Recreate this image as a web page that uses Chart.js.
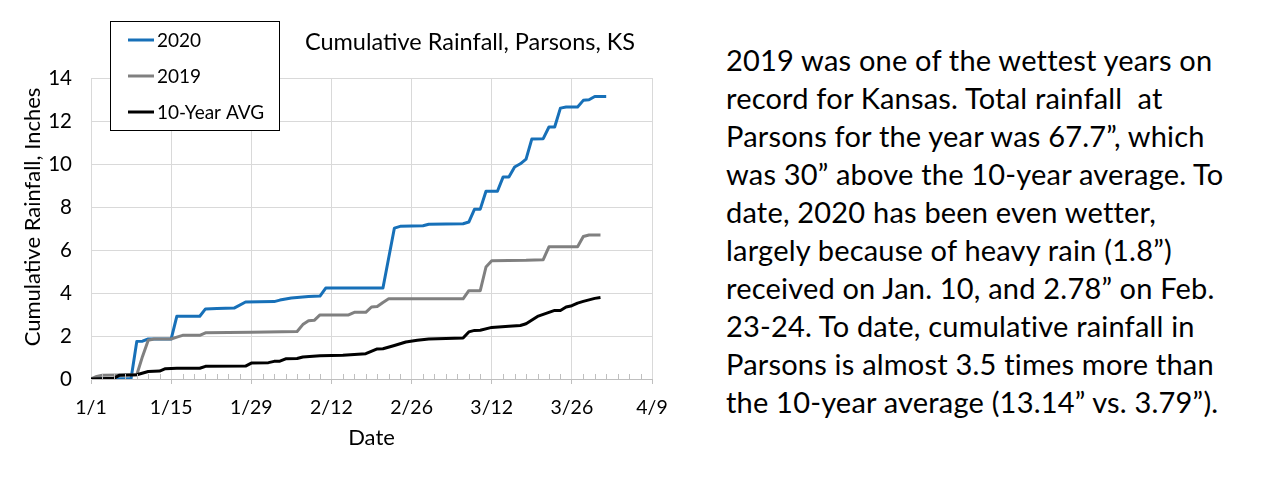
<!DOCTYPE html>
<html>
<head>
<meta charset="utf-8">
<script src="https://cdn.jsdelivr.net/npm/chart.js@4.4.1/dist/chart.umd.min.js"></script>
<style>
  html, body { margin: 0; padding: 0; background: #fff; }
  body { width: 1280px; height: 480px; position: relative; overflow: hidden; }
  #wrap { position: absolute; left: 0; top: 0; width: 700px; height: 480px; }
  #note {
    position: absolute; left: 726px; top: 41px;
    font-family: Lato, "Noto Sans", sans-serif; font-size: 29px; line-height: 38px;
    letter-spacing: 0.2px;
    color: #000; white-space: nowrap;
  }
</style>
</head>
<body>
<div id="wrap"><canvas id="c" width="700" height="480"></canvas></div>
<div id="note">2019 was one of the wettest years on<br>record for Kansas. Total rainfall&nbsp; at<br>Parsons for the year was 67.7”, which<br>was 30” above the 10-year average. To<br>date, 2020 has been even wetter,<br>largely because of heavy rain (1.8”)<br>received on Jan. 10, and 2.78” on Feb.<br>23-24. To date, cumulative rainfall in<br>Parsons is almost 3.5 times more than<br>the 10-year average (13.14” vs. 3.79”).</div>
<script>
// ---- data (day offsets from Jan 1, cumulative inches) ----
const tickLabels = ['1/1', '1/15', '1/29', '2/12', '2/26', '3/12', '3/26', '4/9'];
const seriesNames = ['2020', '2019', '10-Year AVG'];

const days2020 = [0, 7, 8, 9, 10, 14, 15, 19, 20, 22, 25, 27, 32, 33, 35, 38, 40, 41, 51, 53, 54, 58, 59, 65, 66, 67, 68, 69, 71, 72, 73, 74, 75, 76, 77, 79, 80, 81, 82, 83, 85, 86, 87, 88, 90];
const vals2020 = [0, 0.02, 1.75, 1.76, 1.86, 1.86, 2.92, 2.92, 3.26, 3.28, 3.3, 3.58, 3.6, 3.67, 3.77, 3.84, 3.86, 4.23, 4.23, 7.02, 7.1, 7.13, 7.2, 7.22, 7.3, 7.9, 7.9, 8.73, 8.73, 9.4, 9.4, 9.86, 10.01, 10.23, 11.16, 11.18, 11.72, 11.72, 12.6, 12.65, 12.65, 12.96, 12.99, 13.14, 13.14];

const days2019 = [0, 1, 2, 8, 9, 10, 11, 14, 15, 16, 19, 20, 28, 36, 37, 38, 39, 40, 45, 46, 48, 49, 50, 51, 52, 65, 66, 68, 69, 70, 76, 79, 80, 85, 86, 87, 89];
const vals2019 = [0, 0.12, 0.18, 0.2, 1.05, 1.8, 1.86, 1.86, 1.95, 2.03, 2.03, 2.15, 2.18, 2.21, 2.53, 2.71, 2.73, 2.98, 2.98, 3.1, 3.1, 3.35, 3.37, 3.56, 3.73, 3.73, 4.11, 4.11, 5.21, 5.5, 5.52, 5.55, 6.15, 6.15, 6.63, 6.7, 6.7];

const daysAvg = [0, 4, 5, 8, 10, 12, 13, 15, 19, 20, 27, 28, 31, 32, 33, 34, 36, 37, 40, 44, 48, 50, 51, 53, 55, 57, 59, 65, 66, 67, 68, 70, 73, 75, 76, 78, 80, 81, 82, 83, 84, 85, 86, 88, 89];
const valsAvg = [0, 0.03, 0.18, 0.2, 0.35, 0.37, 0.48, 0.5, 0.5, 0.59, 0.6, 0.74, 0.76, 0.82, 0.83, 0.94, 0.95, 1.02, 1.08, 1.1, 1.18, 1.4, 1.41, 1.56, 1.72, 1.8, 1.86, 1.91, 2.19, 2.26, 2.27, 2.4, 2.45, 2.49, 2.57, 2.91, 3.1, 3.19, 3.19, 3.35, 3.41, 3.53, 3.61, 3.75, 3.79];

const toPts = (d, v) => d.map((x, i) => ({ x: x, y: v[i] }));

const FONT = 'Lato, "Noto Sans", sans-serif';
const AREA = { left: 91, right: 652, top: 78, bottom: 379 };

const extras = {
  id: 'extras',
  afterDraw(chart) {
    const ctx = chart.ctx;
    const xs = chart.scales.x;
    const yb = chart.chartArea.bottom;
    // minor tick marks (inside, every 2 days)
    ctx.save();
    ctx.strokeStyle = '#bfbfbf';
    ctx.lineWidth = 1;
    for (let d = 2; d < 98; d += 2) {
      if (d % 14 === 0) continue;
      const px = Math.round(xs.getPixelForValue(d)) + 0.5;
      ctx.beginPath();
      ctx.moveTo(px, yb);
      ctx.lineTo(px, yb - 5);
      ctx.stroke();
    }
    ctx.restore();

    // chart title
    ctx.save();
    ctx.fillStyle = '#000';
    ctx.font = '23.5px ' + FONT;
    ctx.textAlign = 'center';
    ctx.textBaseline = 'middle';
    ctx.fillText('Cumulative Rainfall, Parsons, KS', 470, 42);
    ctx.restore();

    // y axis title
    ctx.save();
    ctx.fillStyle = '#000';
    ctx.font = '22px ' + FONT;
    ctx.textAlign = 'center';
    ctx.textBaseline = 'middle';
    ctx.translate(33, 217);
    ctx.rotate(-Math.PI / 2);
    ctx.fillText('Cumulative Rainfall, Inches', 0, 0);
    ctx.restore();

    // legend box
    ctx.save();
    ctx.fillStyle = '#fff';
    ctx.fillRect(110, 21, 169, 109);
    ctx.strokeStyle = '#000';
    ctx.lineWidth = 1;
    ctx.strokeRect(110.5, 21.5, 169, 109);
    const order = [2, 1, 0]; // dataset indexes: 2020, 2019, avg
    const rowsY = [40, 76, 112];
    ctx.font = '19px ' + FONT;
    ctx.textBaseline = 'middle';
    ctx.textAlign = 'left';
    order.forEach((di, k) => {
      const ds = chart.data.datasets[di];
      ctx.strokeStyle = ds.borderColor;
      ctx.lineWidth = 3;
      ctx.beginPath();
      ctx.moveTo(128, rowsY[k]);
      ctx.lineTo(154, rowsY[k]);
      ctx.stroke();
      ctx.fillStyle = '#000';
      ctx.fillText(ds.label, 157, rowsY[k] + 1);
    });
    ctx.restore();
  }
};

new Chart(document.getElementById('c'), {
  type: 'line',
  data: {
    datasets: [
      { label: seriesNames[2], data: toPts(daysAvg, valsAvg), borderColor: '#000000', order: 1 },
      { label: seriesNames[1], data: toPts(days2019, vals2019), borderColor: '#808080', order: 2 },
      { label: seriesNames[0], data: toPts(days2020, vals2020), borderColor: '#1770b8', order: 3 }
    ]
  },
  options: {
    responsive: false,
    animation: false,
    events: [],
    layout: { padding: { left: 0, top: AREA.top, right: 700 - AREA.right, bottom: 0 } },
    elements: {
      line: { borderWidth: 3, tension: 0, borderJoinStyle: 'round', borderCapStyle: 'butt', fill: false },
      point: { radius: 0 }
    },
    plugins: { legend: { display: false }, title: { display: false }, tooltip: { enabled: false } },
    scales: {
      x: {
        type: 'linear', min: 0, max: 98,
        afterBuildTicks(s) { s.ticks = tickLabels.map((t, i) => ({ value: i * 14 })); },
        afterFit(s) { s.height = 480 - AREA.bottom; },
        ticks: {
          autoSkip: false, maxRotation: 0, padding: 12,
          color: '#000', font: { family: FONT, size: 19.5 },
          callback: (v) => tickLabels[Math.round(v / 14)]
        },
        grid: { color: '#d9d9d9', tickLength: 5, tickColor: '#bfbfbf', lineWidth: 1 },
        border: { display: true, color: '#bfbfbf' },
        title: { display: true, text: 'Date', color: '#000', font: { family: FONT, size: 22 }, padding: { top: 0, bottom: 29 } }
      },
      y: {
        min: 0, max: 14,
        afterFit(s) { s.width = AREA.left; },
        ticks: { stepSize: 2, padding: 11, color: '#000', font: { family: FONT, size: 20.5 } },
        grid: { color: '#d9d9d9', tickLength: 8, tickColor: 'transparent' },
        border: { display: true, color: '#d9d9d9' },
        title: { display: false }
      }
    }
  },
  plugins: [extras]
});
</script>
</body>
</html>
